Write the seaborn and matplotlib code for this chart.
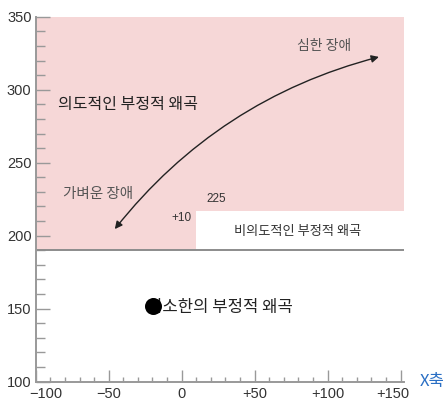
import matplotlib
matplotlib.use("Agg")
import matplotlib.pyplot as plt
import matplotlib.transforms as mtransforms
import seaborn as sns
import pandas as pd
from matplotlib.patches import FancyArrowPatch
from matplotlib.ticker import MultipleLocator, FixedLocator

# ---- data ----
x_major_ticks = [-100, -50, 0, 50, 100, 150]
x_tick_labels = ["\u2212100", "\u221250", "0", "+50", "+100", "+150"]
y_major_ticks = [100, 150, 200, 250, 300, 350]
y_tick_labels = ["100", "150", "200", "250", "300", "350"]
x_limits = [-100, 152]
y_limits = [100, 350]

threshold_y = 190          # horizontal boundary
cutout_x = 10              # +10 boundary
cutout_top = 217           # top of non-intentional region
region_top = 350

point_x = [-19.5]
point_y = [152]

arrow_start = (-47, 203)
arrow_end = (137, 323)

labels = [
    # text, x, y, size, color, ha
    ("의도적인 부정적 왜곡", -85, 290, 11.5, "#222222", "left"),
    ("심한 장애", 97.5, 330, 10, "#555555", "center"),
    ("가벼운 장애", -57.5, 228.5, 10.5, "#555555", "center"),
    ("225", 23.5, 225, 8.5, "#333333", "center"),
    ("+10", 0, 212, 8.5, "#333333", "center"),
    ("비의도적인 부정적 왜곡", 79.5, 202.5, 9.5, "#333333", "center"),
    ("최소한의 부정적 왜곡", -24, 150.5, 12, "#222222", "left"),
]

sns.set_theme(style="white")
plt.rcParams["font.family"] = ["Liberation Sans", "Noto Sans CJK KR", "DejaVu Sans"]

fig = plt.figure(figsize=(4.47, 4.01), dpi=100)
ax = fig.add_axes([0.0799, 0.0486, 0.9027 - 0.0799, 0.958 - 0.0486])

pink = "#f6d7d7"
# intentional region (pink) with white cut-out
ax.fill_between([x_limits[0], cutout_x], threshold_y, region_top, color=pink, lw=0, zorder=0)
ax.fill_between([cutout_x, x_limits[1]], cutout_top, region_top, color=pink, lw=0, zorder=0)

ax.axhline(threshold_y, color="#8c8c8c", lw=1.4, zorder=1)

# labels
kfont = ["Noto Sans CJK KR", "DejaVu Sans"]
for txt, x, y, s, c, ha in labels:
    fam = kfont if any(ord(ch) > 0x1000 for ch in txt) else ["Liberation Sans", "DejaVu Sans"]
    ax.text(x, y, txt, fontsize=s, color=c, ha=ha, va="center", family=fam, zorder=3)

# dot
df = pd.DataFrame({"x": point_x, "y": point_y})
sns.scatterplot(data=df, x="x", y="y", ax=ax, s=150, color="black", edgecolor="black",
                linewidth=0, zorder=5, legend=False)

# curved double arrow
arr = FancyArrowPatch(arrow_start, arrow_end, arrowstyle="<|-|>", mutation_scale=11,
                      connectionstyle="arc3,rad=-0.17", color="#222222", lw=1.0, zorder=4)
ax.add_patch(arr)

ax.set_xlim(*x_limits)
ax.set_ylim(*y_limits)
ax.set_xlabel("")
ax.set_ylabel("")

for s in ["top", "right"]:
    ax.spines[s].set_visible(False)
for s in ["left", "bottom"]:
    ax.spines[s].set_color("#999999")
    ax.spines[s].set_linewidth(1.4)

ax.xaxis.set_major_locator(FixedLocator(x_major_ticks))
ax.set_xticklabels(x_tick_labels)
ax.yaxis.set_major_locator(FixedLocator(y_major_ticks))
ax.set_yticklabels(y_tick_labels)
ax.xaxis.set_minor_locator(MultipleLocator(10))
ax.yaxis.set_minor_locator(MultipleLocator(10))

ax.tick_params(axis="x", which="major", direction="in", length=8.6, width=1, color="#999999",
               labelsize=10.5, labelcolor="#333333", pad=4, bottom=True)
ax.tick_params(axis="x", which="minor", direction="in", length=3.6, width=1, color="#999999", bottom=True)
ax.tick_params(axis="y", which="major", direction="in", length=10, width=1, color="#999999",
               labelsize=10.5, labelcolor="#333333", pad=3, left=True)
ax.tick_params(axis="y", which="minor", direction="in", length=6.5, width=1, color="#999999", left=True)

# nudge first and last x tick labels like the reference
xt = ax.get_xticklabels()
xt[0].set_transform(xt[0].get_transform() + mtransforms.ScaledTranslation(10 / 100, 0, fig.dpi_scale_trans))
xt[-1].set_transform(xt[-1].get_transform() + mtransforms.ScaledTranslation(-8 / 100, 0, fig.dpi_scale_trans))

ax.text(1.077, 0.0, "X축", transform=ax.transAxes, fontsize=12, color="#2a6fc4",
        ha="center", va="center", family=kfont)

fig.savefig("out.png", dpi=100)
